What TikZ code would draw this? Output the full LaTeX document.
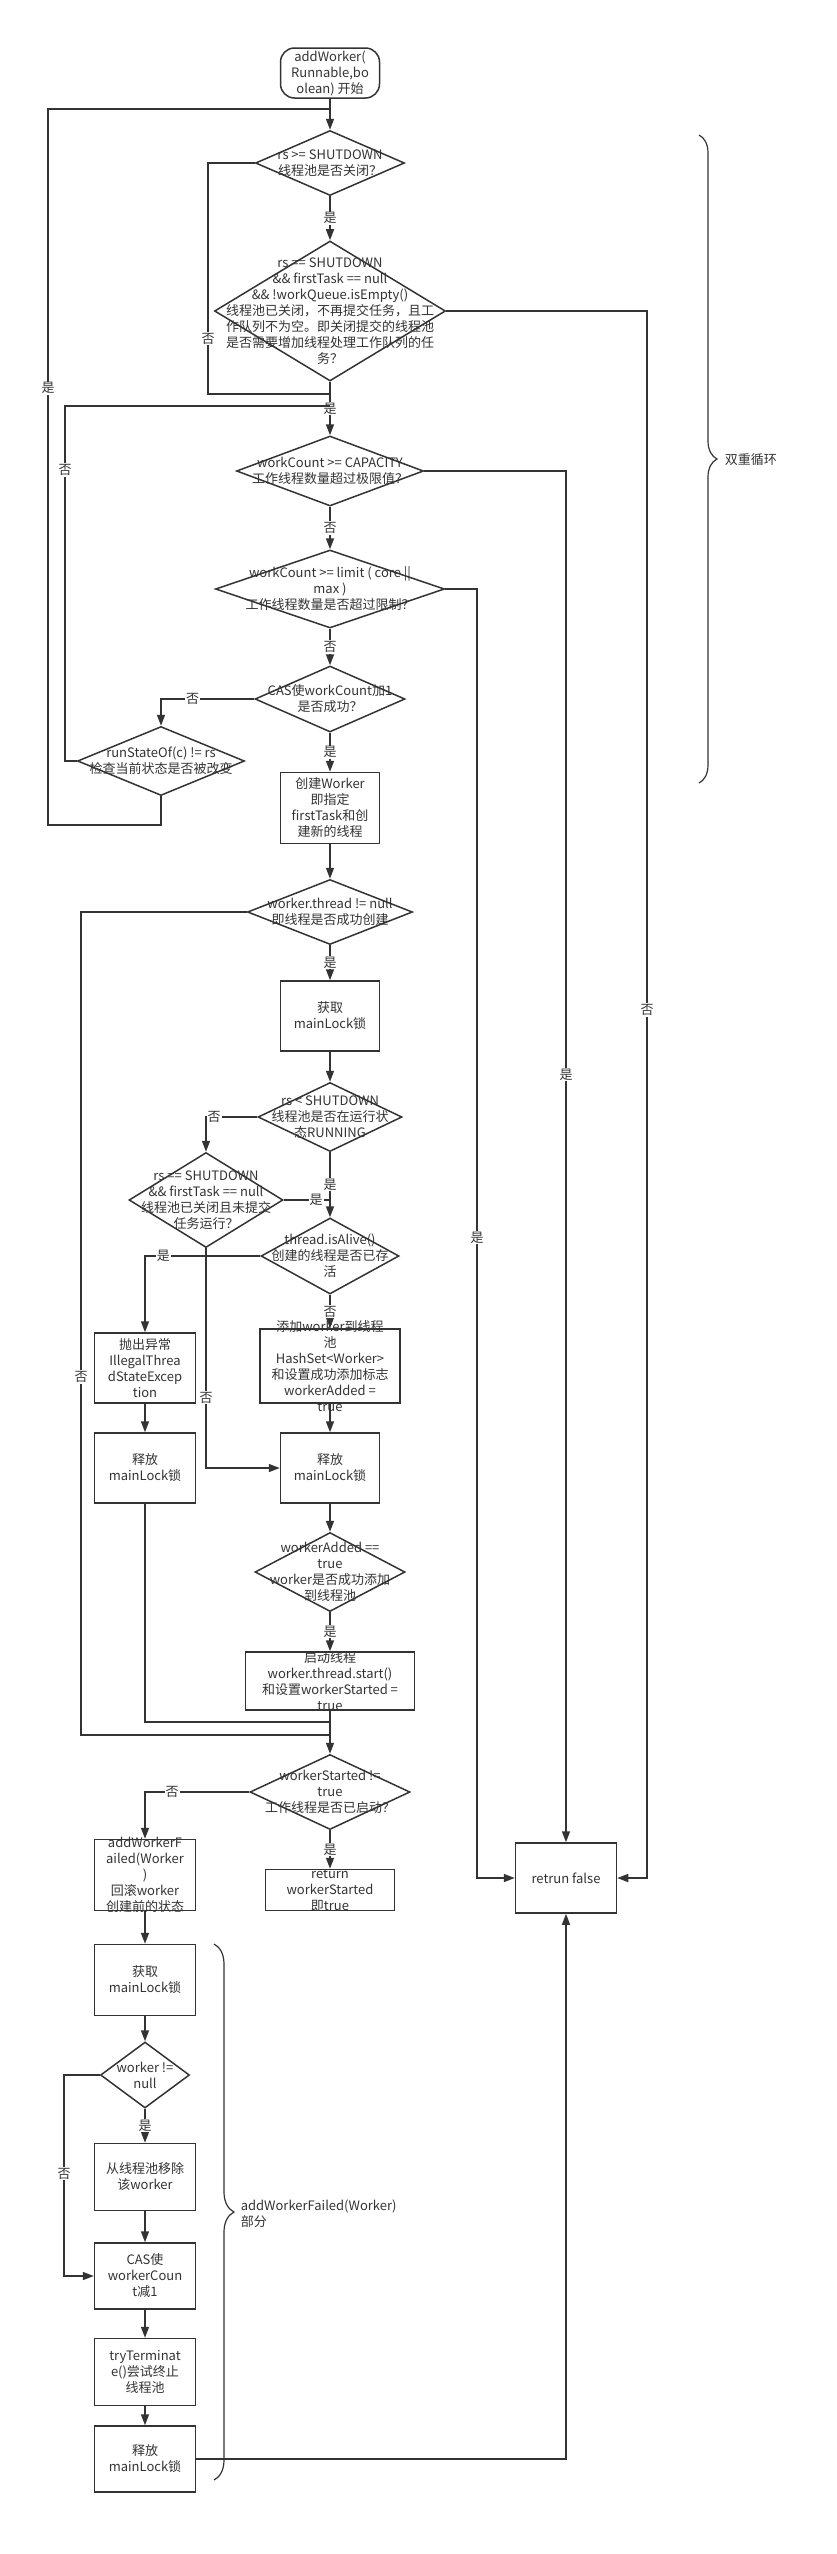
\documentclass[tikz,border=0pt]{standalone}
\usepackage{fontspec}
\setmainfont{Noto Sans CJK SC}
\usepackage{xcolor}
\usetikzlibrary{shapes.geometric,arrows.meta,decorations.pathreplacing}
\definecolor{inkgray}{HTML}{333333}

\begin{document}
\begin{tikzpicture}[x=1pt,y=-1pt,-,>={Triangle[length=11pt,width=8pt]},line width=1.5pt,color=inkgray,
    every node/.style={font=\fontsize{13}{16}\selectfont},
    box/.style 2 args={rectangle,draw,minimum width=#1pt,minimum height=#2pt,inner sep=0pt},
    dec/.style 2 args={diamond,draw,minimum width=#1pt,minimum height=#2pt,inner sep=0pt},
    begin node/.style={rectangle,rounded corners=14pt,draw,minimum width=99pt,minimum height=50pt,inner sep=0pt},
    txt/.style={align=center,inner sep=0pt},
    yn/.style={fill=white,inner sep=1pt},
    brace line/.style={-,line width=1.2pt,decorate,decoration={brace,amplitude=#1}}]

    \useasboundingbox (0,0) rectangle (836,2554);

    % main loop
    \node[begin node, label={[txt]center:{addWorker(\\Runnable,bo\\olean) 开始}}] (start) at (330,73) {};
    \node[dec={149}{65}, label={[txt]center:{rs >= SHUTDOWN\\线程池是否关闭？}}] (d1) at (330,163) {};
    \node[dec={231}{140}, label={[txt]center:{rs == SHUTDOWN\\\&\& firstTask == null\\\&\& !workQueue.isEmpty()\\线程池已关闭，不再提交任务，且工\\作队列不为空。即关闭提交的线程池\\是否需要增加线程处理工作队列的任\\务？}}] (d2) at (330,311) {};
    \node[dec={187}{70}, label={[txt]center:{workCount >= CAPACITY\\工作线程数量超过极限值？}}] (d3) at (330,471) {};
    \node[dec={229}{78}, label={[txt]center:{workCount >= limit ( core ||\\max )\\工作线程数量是否超过限制？}}] (d4) at (330,589) {};
    \node[dec={150}{66}, label={[txt]center:{CAS使workCount加1\\是否成功？}}] (d5) at (330,699) {};
    \node[dec={167}{69}, label={[txt]center:{runStateOf(c) != rs\\检查当前状态是否被改变}}] (d6) at (161,761) {};
    \node[box={99}{71}, label={[txt]center:{创建Worker\\即指定\\firstTask和创\\建新的线程}}] (b1) at (330,808) {};

    % worker start
    \node[dec={165}{65}, label={[txt]center:{worker.thread != null\\即线程是否成功创建}}] (d7) at (330,912) {};
    \node[box={99}{70}, label={[txt]center:{获取\\mainLock锁}}] (b2) at (330,1016) {};
    \node[dec={144}{69}, label={[txt]center:{rs < SHUTDOWN\\线程池是否在运行状\\态RUNNING}}] (d8) at (330,1117) {};
    \node[dec={154}{95}, label={[txt]center:{rs == SHUTDOWN\\\&\& firstTask == null\\线程池已关闭且未提交\\任务运行？}}] (d9) at (206,1200) {};
    \node[dec={138}{76}, label={[txt]center:{thread.isAlive()\\创建的线程是否已存\\活}}] (d10) at (330,1256) {};
    \node[box={101}{70}, label={[txt]center:{抛出异常\\IllegalThrea\\dStateExcep\\tion}}] (b3) at (145,1368) {};
    \node[box={140}{74}, label={[txt]center:{添加worker到线程\\池\\HashSet<Worker>\\和设置成功添加标志\\workerAdded =\\true}}] (b4) at (330,1366) {};
    \node[box={101}{70}, label={[txt]center:{释放\\mainLock锁}}] (b5) at (145,1468) {};
    \node[box={99}{70}, label={[txt]center:{释放\\mainLock锁}}] (b6) at (330,1468) {};
    \node[dec={150}{79}, label={[txt]center:{workerAdded ==\\true\\worker是否成功添加\\到线程池}}] (d11) at (330,1572) {};
    \node[box={169}{58}, label={[txt]center:{启动线程\\worker.thread.start()\\和设置workerStarted =\\true}}] (b7) at (330,1681) {};
    \node[dec={160}{75}, label={[txt]center:{workerStarted !=\\true\\工作线程是否已启动？}}] (d12) at (330,1792) {};
    \node[box={129}{41}, label={[txt]center:{return\\workerStarted\\即true}}] (b9) at (330,1890) {};
    \node[box={101}{70}, label={[txt]center:{retrun false}}] (rf) at (566,1878) {};

    % addWorkerFailed
    \node[box={101}{71}, label={[txt]center:{addWorkerF\\ailed(Worker\\)\\回滚worker\\创建前的状态}}] (b8) at (145,1875) {};
    \node[box={101}{71}, label={[txt]center:{获取\\mainLock锁}}] (b10) at (145,1980) {};
    \node[dec={89}{66}, label={[txt]center:{worker !=\\null}}] (d13) at (145,2075) {};
    \node[box={101}{67}, label={[txt]center:{从线程池移除\\该worker}}] (b11) at (145,2177) {};
    \node[box={101}{66}, label={[txt]center:{CAS使\\workerCoun\\t减1}}] (b12) at (145,2276) {};
    \node[box={101}{67}, label={[txt]center:{tryTerminat\\e()尝试终止\\线程池}}] (b13) at (145,2372) {};
    \node[box={101}{66}, label={[txt]center:{释放\\mainLock锁}}] (b14) at (145,2459) {};

    \coordinate (j1) at (330,109);
    \coordinate (j2) at (330,394);
    \coordinate (j3) at (330,406);
    \coordinate (j4) at (330,1200);
    \coordinate (j5) at (330,1722);
    \coordinate (j6) at (330,1735);

    \path[->]
        (start) edge (d1)
        (d1) edge node[yn]{是} (d2)
        (d2) edge node[yn]{是} (d3)
        (d3) edge node[yn]{否} (d4)
        (d4) edge node[yn]{否} (d5)
        (d5) edge node[yn]{是} (b1)
        (b1) edge (d7)
        (d7) edge node[yn]{是} (b2)
        (b2) edge (d8)
        (d8) edge node[yn]{是} (d10)
        (d10) edge node[yn]{否} (b4)
        (b3) edge (b5)
        (b4) edge (b6)
        (b6) edge (d11)
        (d11) edge node[yn]{是} (b7)
        (b7) edge (d12)
        (d12) edge node[yn]{是} (b9)
        (b8) edge (b10)
        (b10) edge (d13)
        (d13) edge node[yn]{是} (b11)
        (b11) edge (b12)
        (b12) edge (b13)
        (b13) edge (b14)
    ;

    \draw (d1.west) -- (208,163) -- node[yn,pos=0.76]{否} (208,394) -- (j2);
    \draw (d6.south) -- (161,825) -- (48,825) -- node[yn,pos=0.61]{是} (48,109) -- (j1);
    \draw (d6.west) -- (65,761) -- node[yn,pos=0.82]{否} (65,406) -- (j3);
    \draw[->] (d2.east) -- (647,311) -- node[yn,pos=0.446]{否} (647,1878) -- (rf.east);
    \draw[->] (d3.east) -| node[yn,pos=0.72]{是} (rf.north);
    \draw[->] (d4.east) -- (477,589) -- node[yn,pos=0.503]{是} (477,1878) -- (rf.west);
    \draw[->] (d5.west) -| node[yn,pos=0.33]{否} (d6.north);
    \draw (d7.west) -- (81,912) -- node[yn,pos=0.565]{否} (81,1735) -- (j6);
    \draw[->] (d8.west) -| node[yn,pos=0.42]{否} (d9.north);
    \draw (d9.east) -- node[yn,pos=0.7]{是} (j4);
    \draw[->] (d9.south) |- node[yn,pos=0.34]{否} (b6.west);
    \draw[->] (d10.west) -| node[yn,pos=0.42]{是} (b3.north);
    \draw (b5.south) -- (145,1722) -- (j5);
    \draw[->] (d12.west) -| node[yn,pos=0.37]{否} (b8.north);
    \draw[->] (d13.west) -- (64,2075) -- node[yn,pos=0.49]{否} (64,2276) -- (b12.west);
    \draw[->] (b14.east) -| (rf.south);

    % braces
    \draw[brace line=18pt] (699,135) -- (699,783);
    \node[anchor=west,inner sep=2pt] (loopnote) at (722,460) {双重循环};
    \draw[brace line=20pt] (214,1944) -- (214,2480);
    \node[anchor=west,align=left,inner sep=2pt] (failnote) at (238,2214) {addWorkerFailed(Worker)\\部分};
\end{tikzpicture}
\end{document}
